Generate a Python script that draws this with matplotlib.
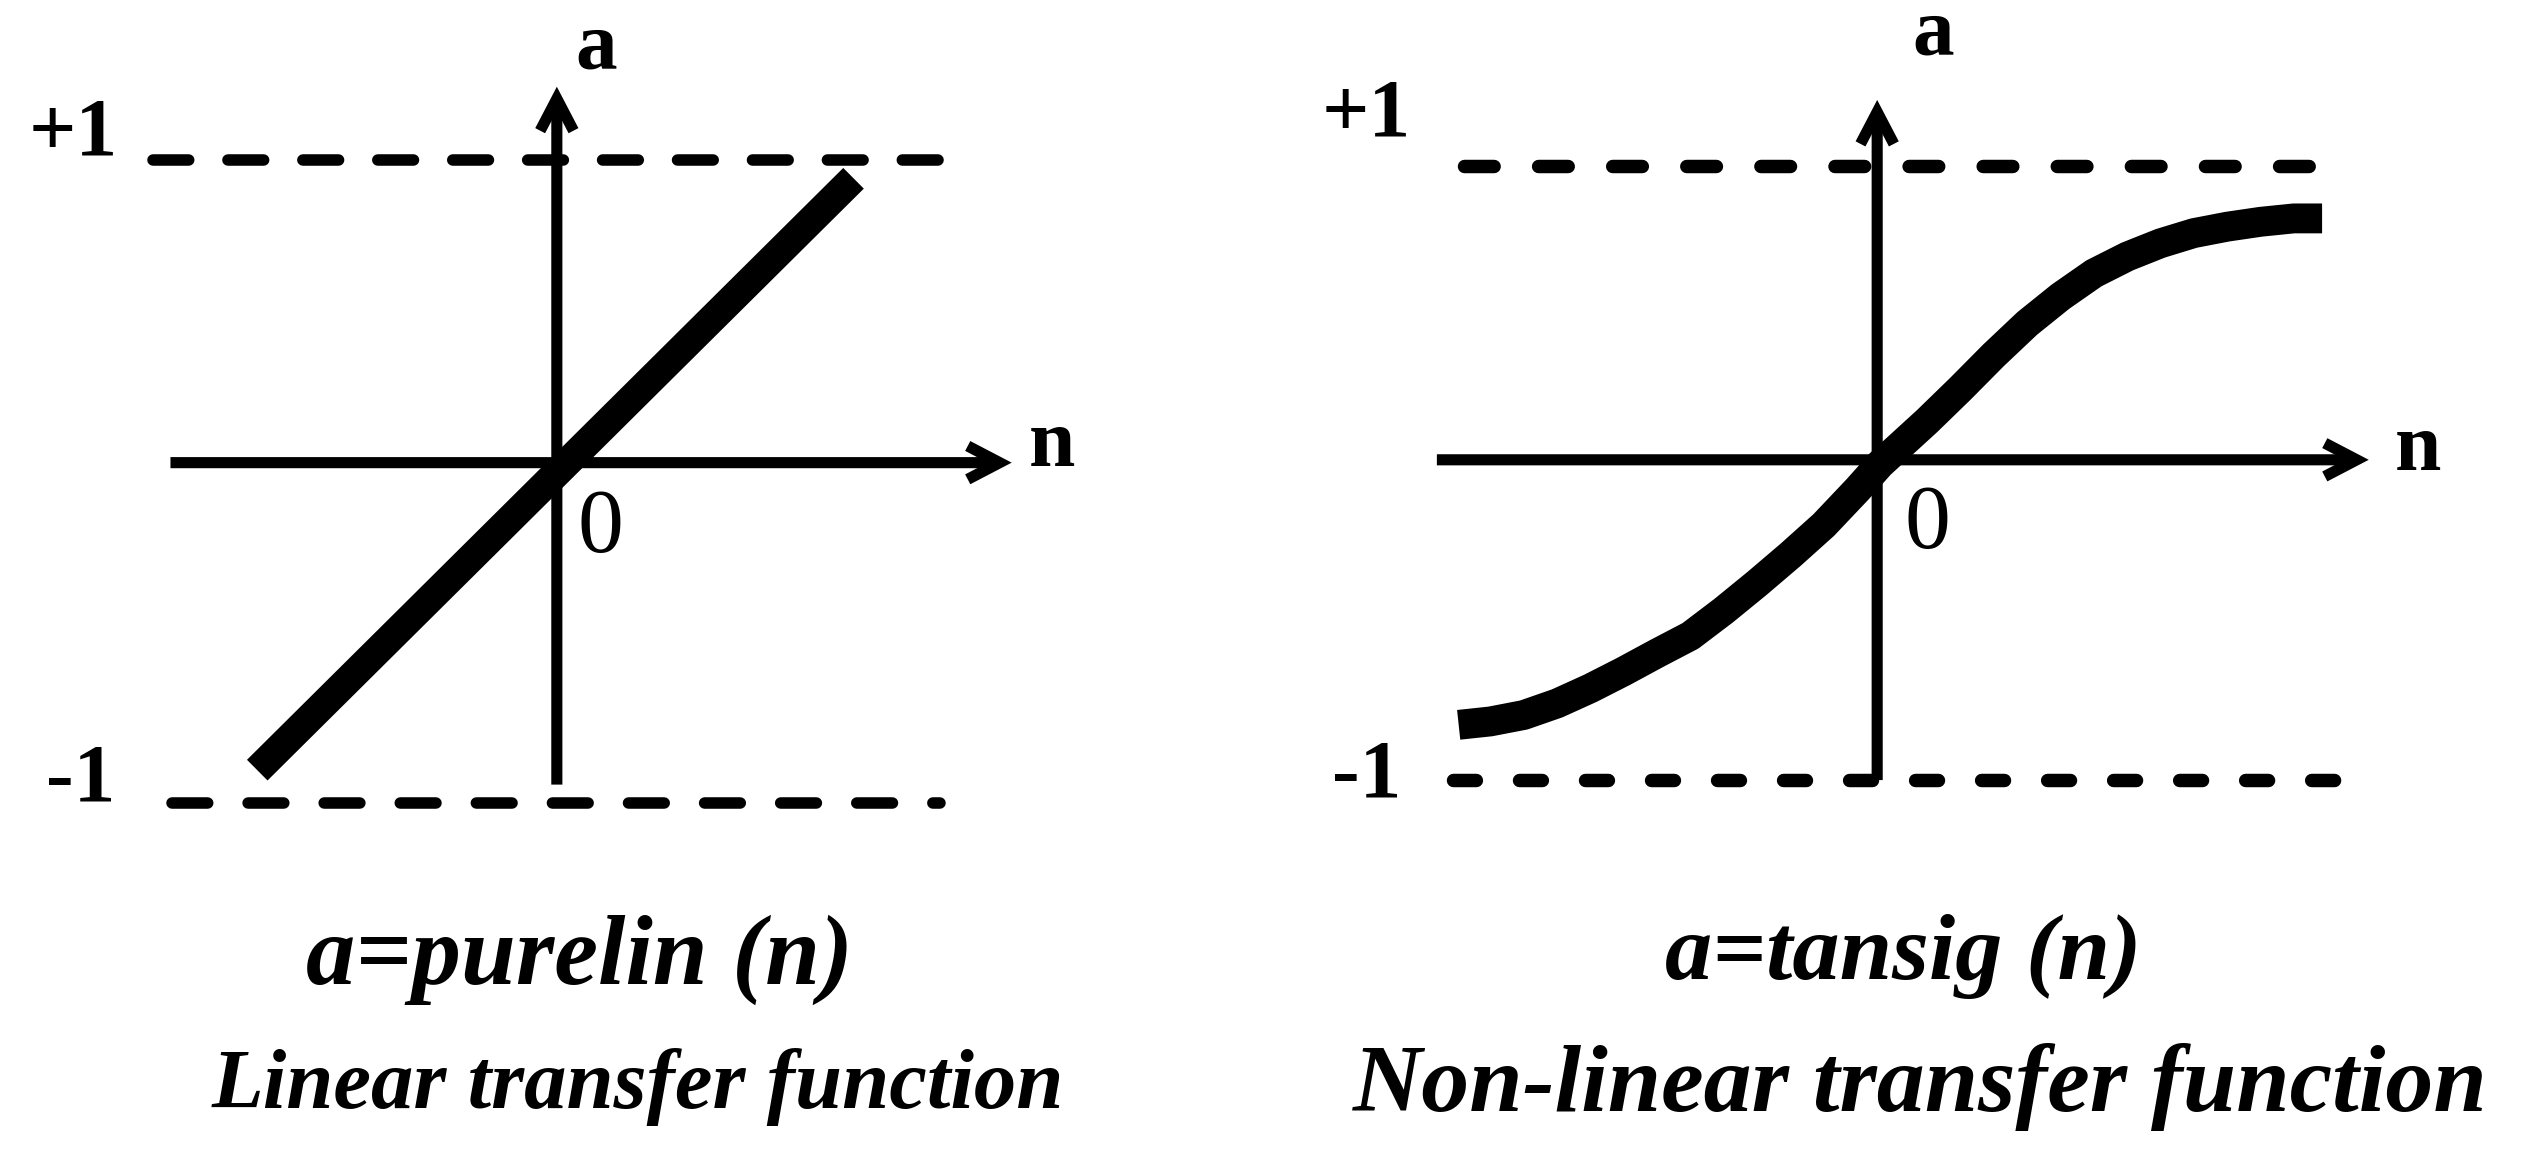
import matplotlib
matplotlib.use("Agg")
import matplotlib.pyplot as plt
from matplotlib.patches import FancyArrowPatch

# linear transfer function, end points
lin_n = [-0.932, 0.923]
lin_a = [-0.899, 0.943]

# tansig curve, points
tan_n = [-1.363, -1.260, -1.151, -1.042, -0.934, -0.826, -0.717, -0.608,
         -0.500, -0.391, -0.282, -0.174, -0.065, 0.010, 0.163, 0.271,
         0.380, 0.489, 0.597, 0.706, 0.815, 0.923, 1.031, 1.140, 1.249,
         1.357, 1.449]
tan_a = [-0.820, -0.809, -0.788, -0.750, -0.701, -0.646, -0.587, -0.530,
         -0.448, -0.359, -0.266, -0.169, -0.054, 0.030, 0.170, 0.275,
         0.385, 0.488, 0.575, 0.651, 0.706, 0.749, 0.782, 0.803, 0.819,
         0.830, 0.830]

titles = ["a=purelin (n)", "a=tansig (n)"]
subtitles = ["Linear transfer function", "Non-linear transfer function"]
level_labels = ["+1", "-1"]

SERIF = "Liberation Serif"


def arrow(ax, start, end, lw):
    ar = FancyArrowPatch(start, end, arrowstyle="->,head_length=1.15,head_width=0.6",
                         mutation_scale=20, lw=lw, color="black",
                         shrinkA=0, shrinkB=0, joinstyle="miter", capstyle="butt")
    ax.add_patch(ar)


def draw_panel(ax, cfg, n, a, curve_lw):
    ax.set_xlim(*cfg["xlim"])
    ax.set_ylim(*cfg["ylim"])
    ax.axis("off")

    a0 = cfg["a0"]
    # n axis and a axis
    arrow(ax, (cfg["nx"][0], a0), (cfg["nx"][1], a0), 8)
    arrow(ax, (0, cfg["ay"][0]), (0, cfg["ay"][1]), 8)

    # +1 / -1 levels
    ax.plot(cfg["top"], [1, 1], color="black", lw=cfg["dash_lw"],
            dashes=cfg["dash_top"], dash_capstyle="round")
    ax.plot(cfg["bot"], [-1, -1], color="black", lw=cfg["dash_lw"],
            dashes=cfg["dash_bot"], dash_capstyle="round")

    ax.plot(n, a, color="black", lw=curve_lw, solid_capstyle="butt",
            solid_joinstyle="round")

    t = cfg["txt"]
    ax.text(*t["a"], "a", fontsize=60, fontweight="bold", family=SERIF,
            ha="center", va="center")
    ax.text(*t["n"], "n", fontsize=60, fontweight="bold", family=SERIF,
            ha="center", va="center")
    ax.text(*t["p1"], level_labels[0], fontsize=60, fontweight="bold", family=SERIF,
            ha="center", va="center")
    ax.text(*t["m1"], level_labels[1], fontsize=60, fontweight="bold", family=SERIF,
            ha="center", va="center")
    ax.text(*t["zero"], "0", fontsize=66, family=SERIF, ha="center", va="center")


fig = plt.figure(figsize=(25.22, 11.64), dpi=100)

left_cfg = dict(
    xlim=(-1.7323, 2.1906), ylim=(-2.1248, 1.4979), a0=0.058,
    nx=(-1.202, 1.415), ay=(-0.944, 1.228),
    top=(-1.257, 1.27), bot=(-1.197, 1.193),
    dash_lw=8.3, dash_top=(3.1, 3.4), dash_bot=(3.1, 3.5),
    txt=dict(a=(0.123, 1.346), n=(1.540, 0.108), p1=(-1.504, 1.078),
             m1=(-1.481, -0.932), zero=(0.135, -0.151)),
)
right_cfg = dict(
    xlim=(-2.0068, 2.1001), ylim=(-2.2509, 1.5416), a0=0.0435,
    nx=(-1.434, 1.601), ay=(-1.0, 1.216),
    top=(-1.345, 1.498), bot=(-1.383, 1.587),
    dash_lw=9.7, dash_top=(2.2, 3.3), dash_bot=(1.7, 3.2),
    txt=dict(a=(0.183, 1.427), n=(1.760, 0.075), p1=(-1.663, 1.163),
             m1=(-1.663, -0.991), zero=(0.165, -0.173)),
)

ax1 = fig.add_axes([0, 0, 0.5, 1])
draw_panel(ax1, left_cfg, lin_n, lin_a, 21)
ax2 = fig.add_axes([0.5, 0, 0.5, 1])
draw_panel(ax2, right_cfg, tan_n, tan_a, 21.5)

# captions under each panel
fig.text(0.2299, 0.1754, titles[0], fontsize=71, fontweight="bold", style="italic",
         family=SERIF, ha="center", va="center")
fig.text(0.2529, 0.0663, subtitles[0], fontsize=61, fontweight="bold", style="italic",
         family=SERIF, ha="center", va="center")
fig.text(0.7545, 0.178, titles[1], fontsize=68, fontweight="bold", style="italic",
         family=SERIF, ha="center", va="center")
fig.text(0.7615, 0.0663, subtitles[1], fontsize=69, fontweight="bold", style="italic",
         family=SERIF, ha="center", va="center")

fig.savefig("out.png", dpi=100)
